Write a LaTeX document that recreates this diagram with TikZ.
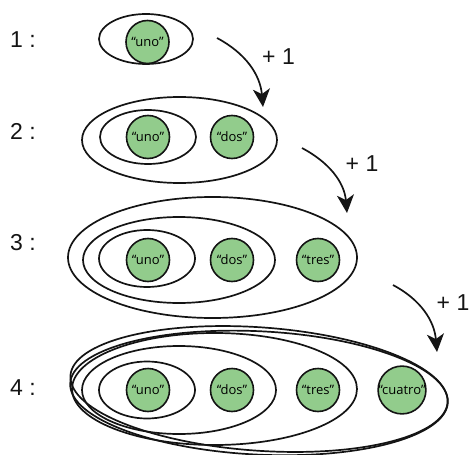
\documentclass[tikz,border=0pt]{standalone}
\usepackage{fontspec}
\setmainfont{Liberation Sans}
\newfontfamily\ballfamily{Open Sans}
\usetikzlibrary{arrows.meta}
\definecolor{ballgreen}{RGB}{146,204,140}
\definecolor{ink}{RGB}{20,20,20}
\tikzset{
  ring/.style={draw=ink, line width=1.7pt},
  ball/.style={circle, draw=ink, line width=1.6pt, fill=ballgreen, minimum size=43pt, inner sep=0pt, font=\ballfamily\fontsize{13}{14}\selectfont},
  lbl/.style={font=\fontsize{23}{24}\selectfont, text=ink, inner sep=0pt},
  arr/.style={draw=ink, line width=1.7pt, -{Stealth[length=18pt,width=17pt,inset=5pt]}}
}
\begin{document}
\begin{tikzpicture}[x=1pt,y=1pt]
\useasboundingbox (0,0) rectangle (470,-454);
% row labels
\node[lbl] (r1) at (23,-40) {1 :};
\node[lbl] (r2) at (23,-131) {2 :};
\node[lbl] (r3) at (23,-243) {3 :};
\node[lbl] (r4) at (23,-388) {4 :};
% row 1
\draw[ring] (146,-39) ellipse [x radius=47, y radius=25];
\node[ball] (u1) at (147.5,-42) {“uno”};
% row 2
\draw[ring] (179.5,-140) ellipse [x radius=97.5, y radius=43];
\draw[ring] (148,-137) ellipse [x radius=48, y radius=27];
\node[ball] (u2) at (148,-137) {“uno”};
\node[ball] (d2) at (232,-137) {“dos”};
% row 3
\draw[ring] (212.5,-257.5) ellipse [x radius=144.5, y radius=60.5];
\draw[ring] (179,-260) ellipse [x radius=96, y radius=43];
\draw[ring] (147,-258.5) ellipse [x radius=48, y radius=28.5];
\node[ball] (u3) at (148,-260) {“uno”};
\node[ball] (d3) at (232,-260) {“dos”};
\node[ball] (t3) at (318,-260) {“tres”};
% row 4
\begin{scope}[shift={(259,-389)}, rotate=-2, xslant=-0.3]
\draw[ring] (0,0) ellipse [x radius=188, y radius=62];
\end{scope}
\begin{scope}[rotate around={1.2:(447,-391)}, shift={(259,-389)}, rotate=-2, xslant=-0.3]
\draw[ring] (0,0) ellipse [x radius=188, y radius=62];
\end{scope}
\draw[ring] (214.5,-389) ellipse [x radius=142.5, y radius=56];
\draw[ring] (179,-390) ellipse [x radius=97, y radius=44];
\draw[ring] (147,-390) ellipse [x radius=48, y radius=28.5];
\node[ball] (u4) at (148,-390) {“uno”};
\node[ball] (d4) at (232,-390) {“dos”};
\node[ball] (t4) at (318,-390) {“tres”};
\node[ball] (c4) at (402,-390) {“cuatro”};
% arrows
\coordinate (a1s) at (217,-38);
\coordinate (a1e) at (263,-107);
\coordinate (a2s) at (302,-148);
\coordinate (a2e) at (347,-213);
\coordinate (a3s) at (393,-285);
\coordinate (a3e) at (437,-352);
\draw[arr] (a1s) to[out=-28,in=95] (a1e);
\draw[arr] (a2s) to[out=-28,in=95] (a2e);
\draw[arr] (a3s) to[out=-28,in=95] (a3e);
\node[lbl] (p1) at (278.5,-57) {+ 1};
\node[lbl] (p2) at (362,-164) {+ 1};
\node[lbl] (p3) at (453,-303) {+ 1};
\end{tikzpicture}
\end{document}
